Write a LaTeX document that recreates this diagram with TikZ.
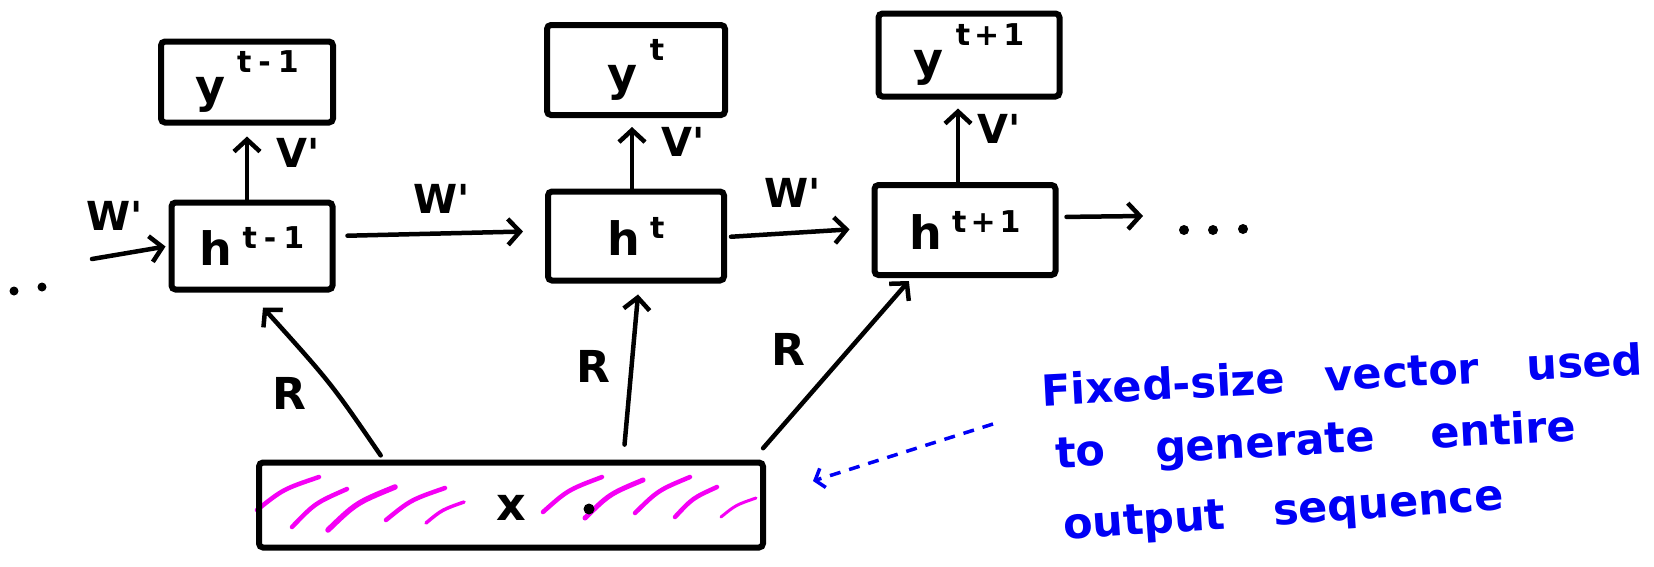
\documentclass[tikz,border=0pt]{standalone}
\usepackage{fontspec}
\setmainfont{DejaVu Sans}
\usetikzlibrary{arrows.meta,calc}
\definecolor{penblue}{RGB}{0,0,245}
\definecolor{penpink}{RGB}{245,0,245}
% letter with a raised index, as written in the cells
\newcommand\ylab[1]{\fontsize{46}{46}\selectfont y\hspace{12pt}\raisebox{30pt}{\fontsize{30}{30}\selectfont #1}}
\newcommand\hlab[1]{\fontsize{46}{46}\selectfont h\hspace{10pt}\raisebox{17pt}{\fontsize{30}{30}\selectfont #1}}
\begin{document}
\begin{tikzpicture}[x=1pt,y=-1pt,
  box/.style={draw, line width=6pt, rounded corners=4pt, inner sep=0pt, font=\bfseries},
  arr/.style={line width=4.5pt, line cap=round, -{Straight Barb[length=12pt,width=26pt]}},
  lbl/.style={font=\bfseries\fontsize{40}{40}\selectfont, inner sep=0pt},
  rlbl/.style={font=\bfseries\fontsize{44}{44}\selectfont, inner sep=0pt},
  hatchline/.style={penpink, line cap=round},
  notetext/.style={penblue, font=\bfseries\fontsize{43}{52}\selectfont, inner sep=0pt, anchor=base west},
  dotarrow/.style={penblue, line width=3.5pt, dash pattern=on 11pt off 9pt, -{Straight Barb[length=8pt,width=20pt]}}
]
\useasboundingbox (0,0) rectangle (1654,566);

% magenta shading of the context vector
\foreach \ax/\ay/\bx/\by/\w in {257/510/319/477/4.5, 292/527/347/489/4.5, 328/530/395/487/5.5,
    386/520/445/488/4.5, 426/523/464/502/3.5, 543/512/602/477/4.5, 585/518/643/480/5,
    635/513/690/477/4.5, 675/517/717/487/4.5, 721/517/756/498/3}
  \draw[hatchline, line width=\w pt] (\ax,\ay) .. controls ({\ax+0.42*(\bx-\ax)},{\ay+0.63*(\by-\ay)}) .. (\bx,\by);

% cells
\node[box, minimum width=172pt, minimum height=81pt] (yA) at (247,82) {\ylab{t\hspace{7pt}-\hspace{7pt}1}};
\node[box, minimum width=161pt, minimum height=87pt] (hA) at (252,246) {\hlab{t\hspace{7pt}-\hspace{7pt}1}};
\node[box, minimum width=178pt, minimum height=90pt] (yB) at (636,70) {\ylab{t}};
\node[box, minimum width=176pt, minimum height=89pt] (hB) at (636,236) {\hlab{t}};
\node[box, minimum width=181pt, minimum height=83pt] (yC) at (969,55) {\ylab{t\hspace{4pt}+\hspace{4pt}1}};
\node[box, minimum width=181pt, minimum height=90pt] (hC) at (965,230) {\hlab{t\hspace{4pt}+\hspace{4pt}1}};
\node[box, minimum width=504pt, minimum height=85pt] (xbox) at (511,505) {};
\node[font=\bfseries\fontsize{46}{46}\selectfont, inner sep=0pt] (xlab) at (511,508) {x};
\fill (589,509) circle (5.5pt);

% outputs
\coordinate (vAs) at ($(hA.north)+(-5,0)$);
\coordinate (vBs) at ($(hB.north)+(-4,0)$);
\coordinate (vCs) at ($(hC.north)+(-7,0)$);
\draw[arr, shorten >=11pt] (vAs) -- (vAs |- yA.south);
\draw[arr, shorten >=9pt] (vBs) -- (vBs |- yB.south);
\draw[arr, shorten >=9pt] (vCs) -- (vCs |- yC.south);
\node[lbl] (vA) at (298,153) {V\textquotesingle};
\node[lbl] (vB) at (683,142) {V\textquotesingle};
\node[lbl] (vC) at (999,129) {V\textquotesingle};

% recurrence
\coordinate (inA) at (92,259);
\coordinate (outC) at (1143,216);
\draw[arr, shorten >=3pt] (inA) -- (hA.west);
\draw[arr, shorten <=12pt, shorten >=22pt] ($(hA.east)+(0,-10)$) -- ($(hB.west)+(0,-5)$);
\draw[arr, shorten <=4pt, shorten >=22pt] ($(hB.east)+(0,1)$) -- ($(hC.west)+(0,-2)$);
\draw[arr, shorten <=8pt] ($(hC.east)+(0,-13)$) -- (outC);
\node[lbl] (wA) at (115,216) {W\textquotesingle};
\node[lbl] (wB) at (442,199) {W\textquotesingle};
\node[lbl] (wC) at (793,193) {W\textquotesingle};

% continuation dots
\fill (14,291) circle (4.5pt);
\fill (42,287) circle (4.5pt);
\fill (1184,230) circle (5pt);
\fill (1213,230) circle (5pt);
\fill (1243,229) circle (5pt);

% context vector feeding every step
\draw[arr, shorten <=5pt] ($(xbox.north west)!0.25!(xbox.north east)$) .. controls (331,383) .. ($(hA.south)+(11,15)$);
\draw[arr, shorten <=15pt, shorten >=11pt] ($(xbox.north west)!0.72!(xbox.north east)$) -- ($(hB.south)+(3,0)$);
\draw[arr, shorten <=15pt] ($(xbox.north west)!0.975!(xbox.north east)$) -- ($(hC.south west)!0.2!(hC.south east)+(0,3)$);
\node[rlbl] (rA) at (289,393) {R};
\node[rlbl] (rB) at (593,366) {R};
\node[rlbl] (rC) at (788,349) {R};

% annotation
\node[notetext, rotate=3] (note1) at (1042,406) {Fixed-size\hspace{40pt}vector\hspace{48pt}used};
\node[notetext, rotate=3] (note2) at (1056,468) {to\hspace{50pt}generate\hspace{56pt}entire};
\node[notetext, rotate=4] (note3) at (1064,540) {output\hspace{48pt}sequence};
\coordinate (dotS) at (993,424);
\coordinate (dotT) at (813,481);
\draw[dotarrow] (dotS) -- (dotT);
\end{tikzpicture}
\end{document}
